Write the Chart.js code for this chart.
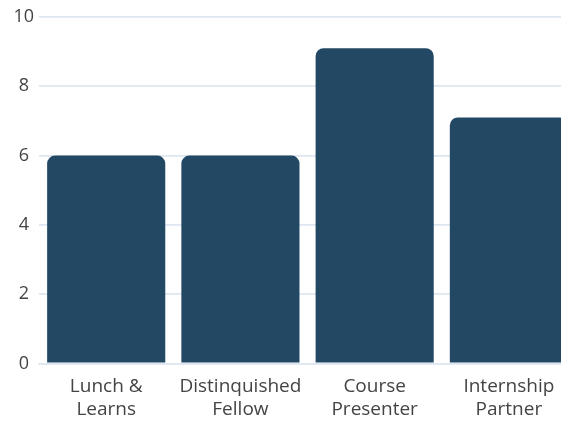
<!DOCTYPE html>
<html>
<head>
<meta charset="utf-8">
<script src="https://cdn.jsdelivr.net/npm/chart.js@4"></script>
<style>
  html, body { margin: 0; padding: 0; background: #ffffff; overflow: hidden; }
  #wrap { width: 580px; height: 433px; position: relative; }
</style>
</head>
<body>
<div id="wrap"><canvas id="c"></canvas></div>
<script>
const categories = [["Lunch &", "Learns"], ["Distinquished", "Fellow"], ["Course", "Presenter"], ["Internship", "Partner"]];
const values = [6, 6, 9.1, 7.1];
const yTicks = [0, 2, 4, 6, 8, 10];

const barColor = "#234863";
const gridColor = "#dde6f1";

new Chart(document.getElementById("c"), {
  type: "bar",
  data: {
    labels: categories,
    datasets: [{
      data: values,
      backgroundColor: barColor,
      borderRadius: 8,
      borderSkipped: "start",
      categoryPercentage: 1.0,
      barPercentage: 0.88
    }]
  },
  options: {
    responsive: true,
    maintainAspectRatio: false,
    animation: false,
    layout: { padding: { left: 8.5, right: 4, top: 17, bottom: 0 } },
    plugins: { legend: { display: false }, tooltip: { enabled: false } },
    scales: {
      x: {
        grid: { display: false, drawTicks: false },
        border: { display: true, color: gridColor, width: 1.5 },
        ticks: { color: "#444444", font: { family: "Open Sans", size: 19 }, padding: 12, maxRotation: 0, autoSkip: false }
      },
      y: {
        min: 0,
        max: 10,
        afterBuildTicks: (axis) => { axis.ticks = yTicks.map(v => ({ value: v })); },
        grid: { color: gridColor, lineWidth: 1.8, drawTicks: false },
        border: { display: false },
        ticks: { color: "#444444", font: { family: "Open Sans", size: 18 }, padding: 5, crossAlign: "center" }
      }
    }
  }
});
</script>
</body>
</html>
